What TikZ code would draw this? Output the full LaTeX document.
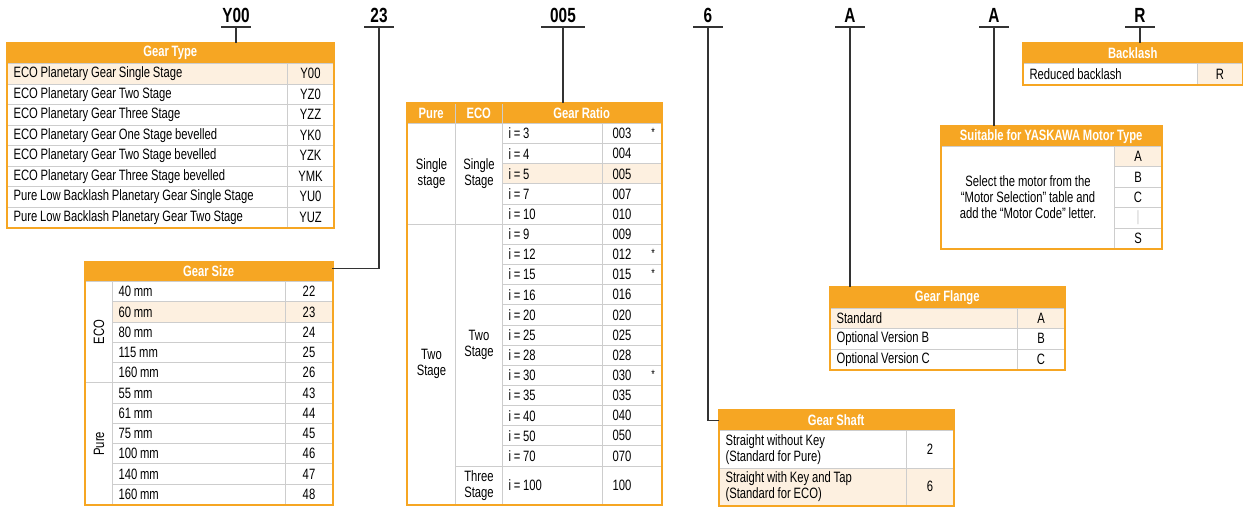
\documentclass[tikz,border=0pt]{standalone}
\usepackage{fontspec}
\setmainfont{Liberation Sans}[FakeStretch=0.75, WordSpace=0.9]
\usepackage{xcolor}
\usepackage{tikz}

\definecolor{gearorange}{HTML}{F6A623}
\definecolor{rowhl}{HTML}{FDF0E0}
\definecolor{gridgrey}{HTML}{CDCDCD}
\definecolor{leadgrey}{HTML}{333333}

\newcommand{\celltext}{\fontsize{15}{16}\selectfont}

\tikzset{
  hdr/.style={fill=gearorange, draw=none, text=white, font=\celltext\bfseries, inner sep=0pt, anchor=north west},
  textcell/.style={draw=gridgrey, line width=1pt, anchor=north west, inner xsep=6pt, inner ysep=0pt, align=flush left},
  codecell/.style={draw=gridgrey, line width=1pt, anchor=north west, inner sep=0pt, align=flush center},
  tableframe/.style={draw=gearorange, line width=1.5pt},
  codetag/.style={font=\fontsize{20.5}{20.5}\selectfont\bfseries, anchor=south, inner xsep=0pt, inner ysep=4pt, minimum width=29pt},
  leader/.style={draw=leadgrey, line width=1.2pt},
  star/.style={font=\fontsize{12}{12}\selectfont, inner sep=0pt}
}

\begin{document}
\begin{tikzpicture}[x=1pt, y=-1pt, font=\celltext]
\useasboundingbox (0,0) rectangle (1243,507);

% order code on top
\node[codetag] (tag-type) at (236,27) {Y00};
\node[codetag] (tag-size) at (379,27) {23};
\node[codetag, minimum width=43pt] (tag-ratio) at (563,27) {005};
\node[codetag] (tag-shaft) at (708,27) {6};
\node[codetag] (tag-flange) at (850,27) {A};
\node[codetag] (tag-motor) at (994,27) {A};
\node[codetag] (tag-back) at (1140,27) {R};
\foreach \t in {type,size,ratio,shaft,flange,motor,back}
  \draw[leader] (tag-\t.south west) -- (tag-\t.south east);

% Gear Type
\node[hdr, minimum width=326pt, minimum height=20pt] (gt-h) at (7,43) {Gear Type};
\foreach \name/\code/\fl [count=\i] in {
  ECO Planetary Gear Single Stage/Y00/rowhl,
  ECO Planetary Gear Two Stage/YZ0/white,
  ECO Planetary Gear Three Stage/YZZ/white,
  ECO Planetary Gear One Stage bevelled/YK0/white,
  ECO Planetary Gear Two Stage bevelled/YZK/white,
  ECO Planetary Gear Three Stage bevelled/YMK/white,
  Pure Low Backlash Planetary Gear Single Stage/YU0/white,
  Pure Low Backlash Planetary Gear Two Stage/YUZ/white}
{
  \node[textcell, fill=\fl, text width=268pt, minimum height=20.5pt] (gt-t\i) at (7,{63+20.5*(\i-1)}) {\name};
  \node[codecell, fill=\fl, minimum width=46pt, minimum height=20.5pt] (gt-c\i) at (287,{63+20.5*(\i-1)}) {\code};
}
\draw[tableframe] (gt-h.north west) rectangle (gt-c8.south east);

% Gear Size
\node[hdr, minimum width=247pt, minimum height=19.5pt] (gs-h) at (85,261.5) {Gear Size};
\foreach \name/\code/\fl [count=\i] in {
  40 mm/22/white, 60 mm/23/rowhl, 80 mm/24/white, 115 mm/25/white, 160 mm/26/white,
  55 mm/43/white, 61 mm/44/white, 75 mm/45/white, 100 mm/46/white, 140 mm/47/white, 160 mm/48/white}
{
  \node[textcell, fill=\fl, text width=161pt, minimum height=20.27pt] (gs-t\i) at (112,{281+20.27*(\i-1)}) {\name};
  \node[codecell, fill=\fl, minimum width=47pt, minimum height=20.27pt] (gs-c\i) at (285,{281+20.27*(\i-1)}) {\code};
}
\node[codecell, minimum width=27pt, minimum height=101.35pt] (gs-eco) at (85,281) {};
\node[codecell, minimum width=27pt, minimum height=121.62pt] (gs-pure) at (85,382.35) {};
\node[rotate=90, inner sep=0pt] (gs-eco-l) at (gs-eco.center) {ECO};
\node[rotate=90, inner sep=0pt] (gs-pure-l) at (gs-pure.center) {Pure};
\draw[tableframe] (gs-h.north west) rectangle (gs-c11.south east);

% Gear Ratio
\node[hdr, minimum width=48pt, minimum height=20pt] (gr-p) at (407,103) {Pure};
\node[hdr, minimum width=47pt, minimum height=20pt] (gr-e) at (455,103) {ECO};
\node[hdr, minimum width=159pt, minimum height=20pt] (gr-h) at (502,103) {Gear Ratio};
\draw[draw=gridgrey, line width=1pt] (gr-p.north east) -- (gr-p.south east)
  (gr-e.north east) -- (gr-e.south east);
\foreach \r/\code/\fl [count=\i] in {
  3/003/white, 4/004/white, 5/005/rowhl, 7/007/white, 10/010/white,
  9/009/white, 12/012/white, 15/015/white, 16/016/white, 20/020/white, 25/025/white,
  28/028/white, 30/030/white, 35/035/white, 40/040/white, 50/050/white, 70/070/white}
{
  \node[textcell, fill=\fl, text width=88pt, minimum height=20.15pt] (gr-i\i) at (502,{123+20.15*(\i-1)}) {i = \r};
  \node[textcell, fill=\fl, inner xsep=10pt, text width=39pt, minimum height=20.15pt] (gr-c\i) at (602,{123+20.15*(\i-1)}) {\code};
}
\node[textcell, text width=88pt, minimum height=38.45pt] (gr-i18) at (502,465.55) {i = 100};
\node[textcell, inner xsep=10pt, text width=39pt, minimum height=38.45pt] (gr-c18) at (602,465.55) {100};
\foreach \k in {1,7,8,13}
  \node[star] (gr-s\k) at ([xshift=-9pt, yshift=1.5pt]gr-c\k.east) {*};
\node[codecell, minimum width=48pt, minimum height=100.75pt] (gr-p1) at (407,123) {Single\\stage};
\node[codecell, minimum width=48pt, minimum height=280.25pt] (gr-p2) at (407,223.75) {Two\\Stage};
\node[codecell, minimum width=47pt, minimum height=100.75pt] (gr-e1) at (455,123) {Single\\Stage};
\node[codecell, minimum width=47pt, minimum height=241.8pt] (gr-e2) at (455,223.75) {Two\\Stage};
\node[codecell, minimum width=47pt, minimum height=38.45pt] (gr-e3) at (455,465.55) {Three\\Stage};
\draw[tableframe] (gr-p.north west) rectangle (gr-c18.south east);

% Backlash
\node[hdr, minimum width=219pt, minimum height=20pt] (bl-h) at (1023,43) {Backlash};
\node[textcell, text width=162pt, minimum height=21pt] (bl-t1) at (1023,63) {Reduced backlash};
\node[codecell, fill=rowhl, minimum width=45pt, minimum height=21pt] (bl-c1) at (1197,63) {R};
\draw[tableframe] (bl-h.north west) rectangle (bl-c1.south east);

% Suitable for YASKAWA Motor Type
\node[hdr, minimum width=220pt, minimum height=20pt] (ym-h) at (941,126) {Suitable for YASKAWA Motor Type};
\node[codecell, minimum width=173pt, minimum height=102pt] (ym-t) at (941,146)
  {Select the motor from the\\“Motor Selection” table and\\add the “Motor Code” letter.};
\foreach \code/\fl/\tc [count=\i] in {A/rowhl/black, B/white/black, C/white/black, |/white/gridgrey, S/white/black}
  \node[codecell, fill=\fl, text=\tc, minimum width=47pt, minimum height=20.4pt] (ym-c\i) at (1114,{146+20.4*(\i-1)}) {\code};
\draw[tableframe] (ym-h.north west) rectangle (ym-c5.south east);

% Gear Flange
\node[hdr, minimum width=234pt, minimum height=20.5pt] (gf-h) at (830,287) {Gear Flange};
\foreach \name/\code/\fl [count=\i] in {Standard/A/rowhl, Optional Version B/B/white, Optional Version C/C/white}
{
  \node[textcell, fill=\fl, text width=175pt, minimum height=20.5pt] (gf-t\i) at (830,{307.5+20.5*(\i-1)}) {\name};
  \node[codecell, fill=\fl, minimum width=47pt, minimum height=20.5pt] (gf-c\i) at (1017,{307.5+20.5*(\i-1)}) {\code};
}
\draw[tableframe] (gf-h.north west) rectangle (gf-c3.south east);

% Gear Shaft
\node[hdr, minimum width=234pt, minimum height=20pt] (sh-h) at (719,410) {Gear Shaft};
\node[textcell, text width=175pt, minimum height=37.5pt] (sh-t1) at (719,430) {Straight without Key\\(Standard for Pure)};
\node[codecell, minimum width=47pt, minimum height=37.5pt] (sh-c1) at (906,430) {2};
\node[textcell, fill=rowhl, text width=175pt, minimum height=37.5pt] (sh-t2) at (719,467.5) {Straight with Key and Tap\\(Standard for ECO)};
\node[codecell, fill=rowhl, minimum width=47pt, minimum height=37.5pt] (sh-c2) at (906,467.5) {6};
\draw[tableframe] (sh-h.north west) rectangle (sh-c2.south east);

% leaders from code to table
\draw[leader] (tag-type.south) -- (tag-type.south |- gt-h.north);
\draw[leader] (tag-size.south) |- ([yshift=3pt]gs-h.east);
\draw[leader] (tag-ratio.south) -- (tag-ratio.south |- gr-h.north);
\draw[leader] (tag-shaft.south) |- (sh-h.west);
\draw[leader] (tag-flange.south) -- (tag-flange.south |- gf-h.north);
\draw[leader] (tag-motor.south) -- (tag-motor.south |- ym-h.north);
\draw[leader] (tag-back.south) -- (tag-back.south |- bl-h.north);
\end{tikzpicture}
\end{document}
